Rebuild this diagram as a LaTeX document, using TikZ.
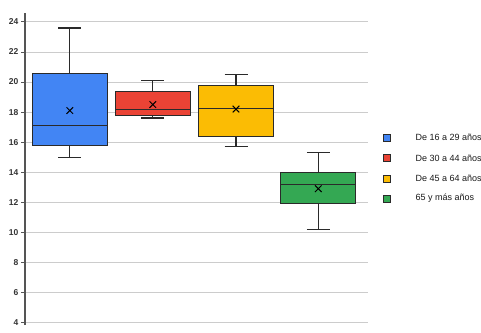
\documentclass[tikz,border=0pt]{standalone}
\usepackage{fontspec}
\setmainfont{Liberation Sans}
\definecolor{cblue}{HTML}{4285F4}
\definecolor{cred}{HTML}{EA4335}
\definecolor{cyel}{HTML}{FBBC04}
\definecolor{cgreen}{HTML}{34A853}
\definecolor{gridc}{HTML}{CCCCCC}
\definecolor{axisc}{HTML}{555555}
\definecolor{edgec}{HTML}{2A2A2A}
\tikzset{
  grid line/.style={draw=gridc, line width=0.9pt},
  whisk/.style={draw=edgec, line width=1.3pt},
  boxshape/.style={draw=edgec, line width=0.9pt},
  medline/.style={draw=edgec, line width=1pt},
  ticklabel/.style={anchor=east, font=\fontsize{8.5}{9}\selectfont\bfseries, text=black!80, inner sep=0pt},
  legtext/.style={anchor=west, font=\fontsize{9}{10}\selectfont, text=black!90, inner sep=0pt},
  legsq/.style={draw=edgec, line width=0.5pt, minimum size=7pt, inner sep=0pt},
}
\newcommand\mybox[8]{%
  % #1 cx, #2 wlo, #3 q1, #4 med, #5 q3, #6 whi, #7 mean, #8 colour
  \draw[whisk] (#1,#2-4) -- (#1,#3-4);
  \draw[whisk] (#1,#5-4) -- (#1,#6-4);
  \draw[whisk] (#1-11.5,#2-4) -- (#1+11.5,#2-4);
  \draw[whisk] (#1-11.5,#6-4) -- (#1+11.5,#6-4);
  \filldraw[boxshape, fill=#8] (#1-37.5,#3-4) rectangle (#1+37.5,#5-4);
  \draw[medline] (#1-37.5,#4-4) -- (#1+37.5,#4-4);
  \draw[line width=1pt, black] (#1,#7-4) +(-3.3pt,-3.3pt) -- +(3.3pt,3.3pt)
                                 (#1,#7-4) +(-3.3pt,3.3pt) -- +(3.3pt,-3.3pt);
}
\begin{document}
\begin{tikzpicture}[x=1pt,y=1pt]
\useasboundingbox (0,0) rectangle (481,332);
\clip (0,0) rectangle (481,332);
\fill[white] (0,0) rectangle (481,332);
\begin{scope}[y=15.03pt, yshift=9.5pt]
  \foreach \v in {4,6,...,24} {
    \draw[grid line] (25,\v-4) -- (368,\v-4);
    \draw[axisc, line width=0.8pt] (21,\v-4) -- (25,\v-4);
    \node[ticklabel] (t\v) at (18.5,\v-4) {\v};
  }
  \draw[axisc, line width=1.4pt] (25,-0.18) -- (25,20.6);
  \mybox{69.8}{15.0}{15.8}{17.1}{20.6}{23.6}{18.1}{cblue}
  \mybox{152.8}{17.6}{17.8}{18.2}{19.4}{20.1}{18.5}{cred}
  \mybox{236}{15.7}{16.4}{18.25}{19.8}{20.5}{18.2}{cyel}
  \mybox{318.3}{10.2}{11.9}{13.2}{14.0}{15.3}{12.9}{cgreen}
\end{scope}
% legend
\node[legsq, fill=cblue]  (s1) at (386.5,332-137.5) {};
\node[legsq, fill=cred]   (s2) at (386.5,332-158) {};
\node[legsq, fill=cyel]   (s3) at (386.5,332-178.3) {};
\node[legsq, fill=cgreen] (s4) at (386.5,332-198.5) {};
\node[legtext] (l1) at (415.5,332-137.5) {De 16 a 29 años};
\node[legtext] (l2) at (415.5,332-158) {De 30 a 44 años};
\node[legtext] (l3) at (415.5,332-178.3) {De 45 a 64 años};
\node[legtext] (l4) at (415.5,332-198.5) {65 y más años};
\end{tikzpicture}
\end{document}
